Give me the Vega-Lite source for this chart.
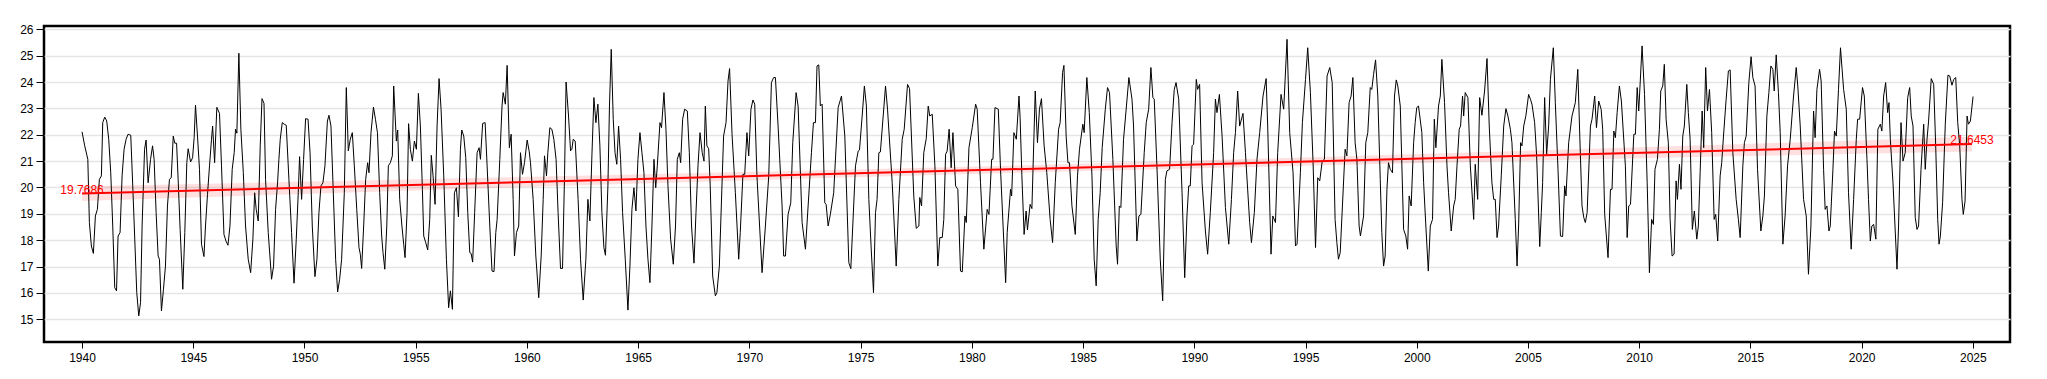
{
"$schema":"https://vega.github.io/schema/vega-lite/v6.json",
"width":1966,"height":316,"autosize":"none",
"padding":{"left":44,"top":26,"right":37,"bottom":37},
"background":"white",
"config":{"view":{"stroke":"#000","strokeWidth":2.5},"font":"Liberation Sans",
"axis":{"labelFont":"Liberation Sans","labelFontSize":12,"labelColor":"#000","tickColor":"#000","domain":false}},
"datasets":{
"band":[{"t":1940.00,"v":19.489,"hi":20.049},{"t":1950.62,"v":19.773,"hi":20.233},{"t":1961.24,"v":20.053,"hi":20.423},{"t":1971.86,"v":20.319,"hi":20.625},{"t":1982.48,"v":20.567,"hi":20.847},{"t":1993.10,"v":20.789,"hi":21.095},{"t":2003.72,"v":20.991,"hi":21.361},{"t":2014.34,"v":21.181,"hi":21.641},{"t":2024.96,"v":21.365,"hi":21.925}],
"trend":[{"t":1940.00,"v":19.7686,"label":"19.7686"},{"t":2024.96,"v":21.6453,"label":"21.6453"}],
"temp":[
{"t":1940.00,"v":22.11},{"t":1940.12,"v":21.58},{"t":1940.26,"v":21.07},{"t":1940.33,"v":18.67},{"t":1940.42,"v":17.78},{"t":1940.51,"v":17.50},{"t":1940.60,"v":18.92},{"t":1940.69,"v":19.17},{"t":1940.78,"v":20.31},{"t":1940.87,"v":20.44},{"t":1940.93,"v":22.46},{"t":1941.02,"v":22.67},{"t":1941.11,"v":22.52},{"t":1941.20,"v":21.83},{"t":1941.29,"v":20.56},{"t":1941.38,"v":18.54},{"t":1941.47,"v":16.20},{"t":1941.55,"v":16.08},{"t":1941.62,"v":18.16},{"t":1941.71,"v":18.29},{"t":1941.80,"v":20.44},{"t":1941.89,"v":21.45},{"t":1941.98,"v":21.83},{"t":1942.07,"v":22.02},{"t":1942.19,"v":21.98},{"t":1942.28,"v":20.06},{"t":1942.37,"v":18.04},{"t":1942.46,"v":16.01},{"t":1942.55,"v":15.13},{"t":1942.63,"v":15.63},{"t":1942.70,"v":18.54},{"t":1942.81,"v":21.45},{"t":1942.88,"v":21.80},{"t":1942.97,"v":20.18},{"t":1943.08,"v":21.07},{"t":1943.17,"v":21.58},{"t":1943.24,"v":21.07},{"t":1943.33,"v":19.05},{"t":1943.42,"v":17.40},{"t":1943.48,"v":17.28},{"t":1943.57,"v":15.32},{"t":1943.66,"v":16.14},{"t":1943.75,"v":17.02},{"t":1943.84,"v":19.30},{"t":1943.93,"v":20.31},{"t":1944.01,"v":20.37},{"t":1944.10,"v":21.95},{"t":1944.17,"v":21.68},{"t":1944.25,"v":21.68},{"t":1944.32,"v":20.31},{"t":1944.41,"v":18.41},{"t":1944.53,"v":16.14},{"t":1944.62,"v":18.29},{"t":1944.71,"v":20.94},{"t":1944.77,"v":21.47},{"t":1944.88,"v":20.97},{"t":1944.97,"v":21.13},{"t":1945.04,"v":21.89},{"t":1945.10,"v":23.12},{"t":1945.19,"v":21.95},{"t":1945.28,"v":20.69},{"t":1945.37,"v":17.85},{"t":1945.48,"v":17.38},{"t":1945.55,"v":18.54},{"t":1945.64,"v":19.74},{"t":1945.73,"v":20.82},{"t":1945.82,"v":21.83},{"t":1945.87,"v":22.33},{"t":1945.96,"v":20.94},{"t":1946.06,"v":23.04},{"t":1946.18,"v":22.81},{"t":1946.27,"v":20.82},{"t":1946.38,"v":18.22},{"t":1946.47,"v":17.97},{"t":1946.56,"v":17.81},{"t":1946.65,"v":18.54},{"t":1946.75,"v":20.69},{"t":1946.84,"v":21.32},{"t":1946.90,"v":22.21},{"t":1946.96,"v":22.06},{"t":1947.05,"v":25.09},{"t":1947.14,"v":22.21},{"t":1947.25,"v":20.56},{"t":1947.35,"v":18.54},{"t":1947.47,"v":17.28},{"t":1947.58,"v":16.77},{"t":1947.68,"v":18.04},{"t":1947.76,"v":19.80},{"t":1947.83,"v":19.17},{"t":1947.92,"v":18.73},{"t":1948.01,"v":21.58},{"t":1948.09,"v":23.37},{"t":1948.18,"v":23.19},{"t":1948.25,"v":20.31},{"t":1948.37,"v":18.29},{"t":1948.52,"v":16.52},{"t":1948.61,"v":17.02},{"t":1948.70,"v":19.17},{"t":1948.79,"v":20.18},{"t":1948.85,"v":21.07},{"t":1948.91,"v":21.83},{"t":1949.00,"v":22.46},{"t":1949.09,"v":22.40},{"t":1949.18,"v":22.36},{"t":1949.30,"v":20.31},{"t":1949.42,"v":18.29},{"t":1949.53,"v":16.37},{"t":1949.63,"v":18.04},{"t":1949.72,"v":19.80},{"t":1949.78,"v":21.17},{"t":1949.87,"v":19.55},{"t":1949.96,"v":21.07},{"t":1950.05,"v":22.61},{"t":1950.16,"v":22.59},{"t":1950.25,"v":21.32},{"t":1950.35,"v":18.54},{"t":1950.47,"v":16.62},{"t":1950.56,"v":17.28},{"t":1950.65,"v":19.05},{"t":1950.74,"v":20.06},{"t":1950.83,"v":20.18},{"t":1950.92,"v":20.82},{"t":1951.03,"v":22.52},{"t":1951.10,"v":22.74},{"t":1951.19,"v":22.33},{"t":1951.28,"v":20.18},{"t":1951.40,"v":17.28},{"t":1951.49,"v":16.04},{"t":1951.58,"v":16.52},{"t":1951.67,"v":17.28},{"t":1951.79,"v":19.80},{"t":1951.88,"v":23.79},{"t":1951.97,"v":21.39},{"t":1952.06,"v":21.83},{"t":1952.15,"v":22.08},{"t":1952.24,"v":20.82},{"t":1952.35,"v":19.17},{"t":1952.45,"v":17.72},{"t":1952.51,"v":17.47},{"t":1952.57,"v":16.93},{"t":1952.66,"v":18.54},{"t":1952.75,"v":20.31},{"t":1952.84,"v":20.94},{"t":1952.90,"v":20.56},{"t":1952.99,"v":22.08},{"t":1953.10,"v":23.05},{"t":1953.19,"v":22.59},{"t":1953.28,"v":22.08},{"t":1953.38,"v":19.80},{"t":1953.47,"v":18.16},{"t":1953.53,"v":17.53},{"t":1953.61,"v":16.90},{"t":1953.70,"v":18.54},{"t":1953.77,"v":20.82},{"t":1953.86,"v":20.94},{"t":1953.95,"v":21.20},
{"t":1954.01,"v":23.85},{"t":1954.13,"v":21.76},{"t":1954.19,"v":22.18},{"t":1954.28,"v":19.55},{"t":1954.38,"v":18.54},{"t":1954.46,"v":17.85},{"t":1954.52,"v":17.34},{"t":1954.61,"v":19.05},{"t":1954.68,"v":22.42},{"t":1954.76,"v":21.45},{"t":1954.85,"v":21.00},{"t":1954.94,"v":21.76},{"t":1955.03,"v":21.45},{"t":1955.12,"v":23.57},{"t":1955.21,"v":22.33},{"t":1955.30,"v":19.93},{"t":1955.36,"v":18.16},{"t":1955.45,"v":17.91},{"t":1955.54,"v":17.63},{"t":1955.63,"v":18.79},{"t":1955.70,"v":21.22},{"t":1955.78,"v":20.44},{"t":1955.87,"v":19.36},{"t":1955.96,"v":22.33},{"t":1956.05,"v":24.13},{"t":1956.14,"v":22.97},{"t":1956.26,"v":20.44},{"t":1956.38,"v":17.28},{"t":1956.48,"v":15.44},{"t":1956.56,"v":16.08},{"t":1956.65,"v":15.38},{"t":1956.74,"v":19.80},{"t":1956.83,"v":19.99},{"t":1956.92,"v":18.89},{"t":1957.01,"v":21.45},{"t":1957.07,"v":22.18},{"t":1957.16,"v":21.95},{"t":1957.25,"v":21.13},{"t":1957.34,"v":19.05},{"t":1957.43,"v":17.53},{"t":1957.49,"v":17.50},{"t":1957.56,"v":17.17},{"t":1957.65,"v":19.05},{"t":1957.76,"v":21.32},{"t":1957.85,"v":21.51},{"t":1957.91,"v":21.07},{"t":1958.01,"v":22.43},{"t":1958.12,"v":22.46},{"t":1958.21,"v":20.82},{"t":1958.33,"v":18.54},{"t":1958.43,"v":16.83},{"t":1958.52,"v":16.81},{"t":1958.60,"v":18.29},{"t":1958.66,"v":18.79},{"t":1958.78,"v":21.07},{"t":1958.88,"v":23.09},{"t":1958.93,"v":23.60},{"t":1959.03,"v":23.16},{"t":1959.11,"v":24.63},{"t":1959.21,"v":21.51},{"t":1959.29,"v":22.02},{"t":1959.38,"v":19.55},{"t":1959.44,"v":17.40},{"t":1959.53,"v":18.29},{"t":1959.63,"v":18.54},{"t":1959.71,"v":21.32},{"t":1959.80,"v":20.50},{"t":1959.89,"v":20.94},{"t":1960.01,"v":21.80},{"t":1960.10,"v":21.38},{"t":1960.16,"v":20.94},{"t":1960.28,"v":19.55},{"t":1960.40,"v":17.40},{"t":1960.53,"v":15.82},{"t":1960.64,"v":17.40},{"t":1960.73,"v":19.55},{"t":1960.79,"v":21.20},{"t":1960.88,"v":20.44},{"t":1960.94,"v":21.32},{"t":1961.03,"v":22.27},{"t":1961.12,"v":22.21},{"t":1961.21,"v":21.83},{"t":1961.31,"v":21.07},{"t":1961.40,"v":19.05},{"t":1961.51,"v":16.93},{"t":1961.60,"v":16.93},{"t":1961.69,"v":20.44},{"t":1961.76,"v":24.00},{"t":1961.87,"v":22.71},{"t":1961.96,"v":21.39},{"t":1962.02,"v":21.45},{"t":1962.08,"v":21.83},{"t":1962.17,"v":21.76},{"t":1962.30,"v":19.55},{"t":1962.41,"v":17.28},{"t":1962.53,"v":15.73},{"t":1962.65,"v":17.28},{"t":1962.74,"v":19.55},{"t":1962.83,"v":18.73},{"t":1962.92,"v":21.20},{"t":1963.01,"v":23.41},{"t":1963.10,"v":22.46},{"t":1963.19,"v":23.16},{"t":1963.28,"v":21.58},{"t":1963.37,"v":19.05},{"t":1963.46,"v":17.72},{"t":1963.53,"v":17.43},{"t":1963.64,"v":20.06},{"t":1963.71,"v":23.09},{"t":1963.79,"v":25.24},{"t":1963.88,"v":22.59},{"t":1963.96,"v":21.32},{"t":1964.04,"v":20.88},{"t":1964.12,"v":22.33},{"t":1964.21,"v":21.07},{"t":1964.30,"v":19.05},{"t":1964.42,"v":17.28},{"t":1964.54,"v":15.35},{"t":1964.63,"v":17.02},{"t":1964.72,"v":19.17},{"t":1964.81,"v":19.99},{"t":1964.90,"v":19.11},{"t":1964.99,"v":21.07},{"t":1965.08,"v":22.08},{"t":1965.17,"v":21.32},{"t":1965.26,"v":20.56},{"t":1965.35,"v":18.54},{"t":1965.44,"v":17.28},{"t":1965.53,"v":16.39},{"t":1965.62,"v":18.54},{"t":1965.71,"v":21.07},{"t":1965.79,"v":19.99},{"t":1965.86,"v":20.82},{"t":1965.98,"v":22.46},{"t":1966.05,"v":22.27},{"t":1966.16,"v":23.60},{"t":1966.25,"v":22.21},{"t":1966.34,"v":20.06},{"t":1966.46,"v":18.04},{"t":1966.58,"v":17.09},{"t":1966.68,"v":18.54},{"t":1966.76,"v":21.07},{"t":1966.85,"v":21.32},{"t":1966.91,"v":20.94},{"t":1967.00,"v":22.59},{"t":1967.09,"v":22.97},{"t":1967.21,"v":22.90},{"t":1967.30,"v":21.32},{"t":1967.40,"v":18.54},{"t":1967.51,"v":17.13},{"t":1967.60,"v":19.05},{"t":1967.69,"v":20.82},{"t":1967.78,"v":22.08},{"t":1967.88,"v":21.32},{"t":1967.96,"v":21.00},
{"t":1968.02,"v":23.09},{"t":1968.09,"v":21.58},{"t":1968.17,"v":21.47},{"t":1968.24,"v":20.06},{"t":1968.35,"v":16.64},{"t":1968.47,"v":15.89},{"t":1968.54,"v":16.01},{"t":1968.65,"v":17.02},{"t":1968.84,"v":21.95},{"t":1968.95,"v":22.46},{"t":1969.04,"v":24.04},{"t":1969.11,"v":24.51},{"t":1969.22,"v":22.02},{"t":1969.37,"v":19.80},{"t":1969.52,"v":17.28},{"t":1969.59,"v":18.29},{"t":1969.71,"v":20.50},{"t":1969.79,"v":20.50},{"t":1969.89,"v":22.08},{"t":1969.97,"v":21.20},{"t":1970.07,"v":22.97},{"t":1970.16,"v":23.32},{"t":1970.24,"v":23.16},{"t":1970.34,"v":20.44},{"t":1970.57,"v":16.77},{"t":1970.72,"v":18.54},{"t":1970.87,"v":20.44},{"t":1970.99,"v":23.98},{"t":1971.09,"v":24.17},{"t":1971.17,"v":24.17},{"t":1971.29,"v":22.33},{"t":1971.47,"v":19.30},{"t":1971.54,"v":17.40},{"t":1971.62,"v":17.40},{"t":1971.74,"v":18.98},{"t":1971.86,"v":19.42},{"t":1971.95,"v":21.70},{"t":1972.10,"v":23.60},{"t":1972.19,"v":23.09},{"t":1972.37,"v":18.67},{"t":1972.52,"v":17.66},{"t":1972.64,"v":19.30},{"t":1972.79,"v":21.32},{"t":1972.88,"v":22.46},{"t":1972.97,"v":22.46},{"t":1973.04,"v":24.61},{"t":1973.12,"v":24.65},{"t":1973.19,"v":23.09},{"t":1973.27,"v":23.16},{"t":1973.39,"v":19.42},{"t":1973.45,"v":19.36},{"t":1973.54,"v":18.54},{"t":1973.64,"v":18.98},{"t":1973.79,"v":19.80},{"t":1973.99,"v":23.03},{"t":1974.14,"v":23.47},{"t":1974.29,"v":21.95},{"t":1974.47,"v":17.15},{"t":1974.56,"v":16.92},{"t":1974.77,"v":20.82},{"t":1974.89,"v":21.38},{"t":1974.95,"v":21.42},{"t":1975.07,"v":22.71},{"t":1975.17,"v":23.85},{"t":1975.26,"v":23.09},{"t":1975.37,"v":19.55},{"t":1975.47,"v":17.78},{"t":1975.58,"v":16.01},{"t":1975.67,"v":19.05},{"t":1975.74,"v":19.55},{"t":1975.82,"v":21.32},{"t":1975.89,"v":21.35},{"t":1976.12,"v":23.85},{"t":1976.21,"v":22.97},{"t":1976.42,"v":20.18},{"t":1976.60,"v":17.02},{"t":1976.72,"v":19.55},{"t":1976.87,"v":21.83},{"t":1976.96,"v":22.21},{"t":1977.11,"v":23.91},{"t":1977.20,"v":23.75},{"t":1977.39,"v":19.68},{"t":1977.50,"v":18.45},{"t":1977.62,"v":18.54},{"t":1977.66,"v":19.62},{"t":1977.74,"v":19.30},{"t":1977.84,"v":21.32},{"t":1977.95,"v":21.85},{"t":1978.04,"v":23.09},{"t":1978.11,"v":22.71},{"t":1978.22,"v":22.78},{"t":1978.34,"v":20.82},{"t":1978.47,"v":17.02},{"t":1978.56,"v":18.10},{"t":1978.67,"v":18.10},{"t":1978.74,"v":18.79},{"t":1978.82,"v":21.26},{"t":1978.89,"v":21.38},{"t":1978.98,"v":22.21},{"t":1979.07,"v":20.75},{"t":1979.15,"v":22.08},{"t":1979.27,"v":20.06},{"t":1979.37,"v":19.93},{"t":1979.49,"v":16.83},{"t":1979.57,"v":16.80},{"t":1979.69,"v":18.92},{"t":1979.75,"v":18.67},{"t":1979.87,"v":21.51},{"t":1980.02,"v":22.27},{"t":1980.17,"v":23.16},{"t":1980.24,"v":22.97},{"t":1980.39,"v":20.18},{"t":1980.54,"v":17.66},{"t":1980.69,"v":19.17},{"t":1980.77,"v":18.98},{"t":1980.89,"v":21.07},{"t":1980.95,"v":21.07},{"t":1981.04,"v":23.03},{"t":1981.19,"v":22.97},{"t":1981.29,"v":20.69},{"t":1981.52,"v":16.39},{"t":1981.59,"v":18.29},{"t":1981.74,"v":19.93},{"t":1981.79,"v":19.68},{"t":1981.89,"v":22.08},{"t":1982.00,"v":21.83},{"t":1982.12,"v":23.47},
{"t":1982.17,"v":22.65},{"t":1982.25,"v":20.44},{"t":1982.35,"v":18.22},{"t":1982.44,"v":19.11},{"t":1982.50,"v":18.39},{"t":1982.62,"v":19.36},{"t":1982.70,"v":19.20},{"t":1982.85,"v":23.66},{"t":1982.95,"v":21.70},{"t":1983.04,"v":22.97},{"t":1983.13,"v":23.37},{"t":1983.25,"v":21.58},{"t":1983.37,"v":20.56},{"t":1983.52,"v":18.79},{"t":1983.63,"v":17.91},{"t":1983.75,"v":20.18},{"t":1983.90,"v":22.21},{"t":1983.97,"v":22.46},{"t":1984.08,"v":24.36},{"t":1984.14,"v":24.63},{"t":1984.24,"v":21.95},{"t":1984.32,"v":20.94},{"t":1984.39,"v":20.94},{"t":1984.50,"v":19.30},{"t":1984.65,"v":18.22},{"t":1984.75,"v":20.44},{"t":1984.84,"v":21.45},{"t":1984.99,"v":22.40},{"t":1985.05,"v":22.08},{"t":1985.17,"v":24.17},{"t":1985.28,"v":22.84},{"t":1985.40,"v":20.44},{"t":1985.50,"v":17.28},{"t":1985.59,"v":16.27},{"t":1985.68,"v":18.79},{"t":1985.77,"v":19.80},{"t":1985.86,"v":21.51},{"t":1986.00,"v":22.97},{"t":1986.10,"v":23.79},{"t":1986.19,"v":23.60},{"t":1986.34,"v":21.07},{"t":1986.49,"v":17.78},{"t":1986.55,"v":17.09},{"t":1986.63,"v":19.30},{"t":1986.70,"v":19.24},{"t":1986.82,"v":21.83},{"t":1986.97,"v":23.28},{"t":1987.06,"v":24.17},{"t":1987.20,"v":23.35},{"t":1987.27,"v":22.33},{"t":1987.42,"v":17.97},{"t":1987.51,"v":18.92},{"t":1987.60,"v":18.98},{"t":1987.75,"v":21.32},{"t":1987.84,"v":22.46},{"t":1987.95,"v":22.97},{"t":1988.05,"v":24.55},{"t":1988.14,"v":23.41},{"t":1988.20,"v":23.35},{"t":1988.32,"v":20.82},{"t":1988.47,"v":17.28},{"t":1988.58,"v":15.70},{"t":1988.70,"v":20.31},{"t":1988.77,"v":20.63},{"t":1988.89,"v":20.69},{"t":1989.00,"v":22.46},{"t":1989.10,"v":23.72},{"t":1989.18,"v":23.98},{"t":1989.30,"v":23.35},{"t":1989.45,"v":19.80},{"t":1989.57,"v":16.58},{"t":1989.67,"v":18.92},{"t":1989.75,"v":20.06},{"t":1989.82,"v":20.06},{"t":1989.90,"v":21.58},{"t":1989.97,"v":21.64},{"t":1990.09,"v":24.10},{"t":1990.15,"v":23.72},{"t":1990.24,"v":23.91},{"t":1990.35,"v":20.18},{"t":1990.50,"v":18.35},{"t":1990.60,"v":17.47},{"t":1990.72,"v":19.05},{"t":1990.87,"v":21.32},{"t":1990.95,"v":23.35},{"t":1991.02,"v":22.84},{"t":1991.13,"v":23.53},{"t":1991.25,"v":21.95},{"t":1991.40,"v":19.24},{"t":1991.55,"v":17.85},{"t":1991.67,"v":19.55},{"t":1991.77,"v":21.32},{"t":1991.85,"v":22.08},{"t":1991.95,"v":23.66},{"t":1992.04,"v":22.33},{"t":1992.19,"v":22.81},{"t":1992.30,"v":21.32},{"t":1992.49,"v":18.67},{"t":1992.57,"v":17.91},{"t":1992.70,"v":19.05},{"t":1992.82,"v":21.07},{"t":1992.94,"v":22.08},{"t":1993.09,"v":23.47},{"t":1993.23,"v":24.13},{"t":1993.30,"v":22.33},{"t":1993.45,"v":17.47},{"t":1993.53,"v":18.92},{"t":1993.65,"v":18.67},{"t":1993.75,"v":21.32},{"t":1993.90,"v":23.53},{"t":1994.02,"v":22.97},{"t":1994.17,"v":25.62},{"t":1994.29,"v":22.08},{"t":1994.44,"v":20.56},{"t":1994.55,"v":17.78},{"t":1994.62,"v":17.85},{"t":1994.77,"v":20.56},{"t":1994.86,"v":22.46},{"t":1995.00,"v":24.10},{"t":1995.10,"v":25.30},{"t":1995.22,"v":23.60},{"t":1995.34,"v":20.94},{"t":1995.45,"v":17.72},{"t":1995.55,"v":20.37},{"t":1995.64,"v":20.25},{"t":1995.75,"v":21.00},{"t":1995.85,"v":21.07},{"t":1995.97,"v":24.23},{"t":1996.09,"v":24.55},{"t":1996.20,"v":23.98},{"t":1996.33,"v":18.79},
{"t":1996.41,"v":17.91},{"t":1996.48,"v":17.28},{"t":1996.56,"v":17.53},{"t":1996.66,"v":19.30},{"t":1996.78,"v":21.45},{"t":1996.86,"v":21.20},{"t":1996.96,"v":23.22},{"t":1997.05,"v":23.47},{"t":1997.13,"v":24.17},{"t":1997.23,"v":21.70},{"t":1997.31,"v":21.07},{"t":1997.41,"v":18.54},{"t":1997.47,"v":18.16},{"t":1997.61,"v":18.92},{"t":1997.71,"v":21.70},{"t":1997.80,"v":22.08},{"t":1997.91,"v":23.79},{"t":1997.98,"v":23.72},{"t":1998.06,"v":24.29},{"t":1998.15,"v":24.84},{"t":1998.25,"v":23.47},{"t":1998.36,"v":20.31},{"t":1998.43,"v":18.29},{"t":1998.51,"v":17.02},{"t":1998.58,"v":17.40},{"t":1998.66,"v":19.93},{"t":1998.73,"v":20.94},{"t":1998.81,"v":20.69},{"t":1998.91,"v":20.56},{"t":1999.00,"v":23.47},{"t":1999.08,"v":24.08},{"t":1999.15,"v":23.85},{"t":1999.26,"v":23.09},{"t":1999.41,"v":18.41},{"t":1999.51,"v":18.16},{"t":1999.59,"v":17.66},{"t":1999.66,"v":19.68},{"t":1999.75,"v":19.30},{"t":1999.86,"v":21.70},{"t":1999.93,"v":22.46},{"t":2000.00,"v":23.03},{"t":2000.08,"v":23.09},{"t":2000.23,"v":22.08},{"t":2000.31,"v":20.18},{"t":2000.41,"v":18.54},{"t":2000.52,"v":16.83},{"t":2000.61,"v":18.54},{"t":2000.71,"v":18.79},{"t":2000.79,"v":22.59},{"t":2000.86,"v":21.51},{"t":2000.98,"v":23.09},{"t":2001.06,"v":23.47},{"t":2001.13,"v":24.86},{"t":2001.25,"v":23.22},{"t":2001.36,"v":20.82},{"t":2001.43,"v":19.80},{"t":2001.55,"v":18.35},{"t":2001.66,"v":19.30},{"t":2001.73,"v":19.55},{"t":2001.81,"v":20.82},{"t":2001.91,"v":22.21},{"t":2001.97,"v":22.33},{"t":2002.06,"v":23.47},{"t":2002.11,"v":22.71},{"t":2002.18,"v":23.60},{"t":2002.30,"v":23.41},{"t":2002.41,"v":20.82},{"t":2002.56,"v":18.79},{"t":2002.63,"v":20.88},{"t":2002.74,"v":19.55},{"t":2002.83,"v":23.41},{"t":2002.93,"v":22.74},{"t":2003.05,"v":23.66},{"t":2003.16,"v":24.89},{"t":2003.26,"v":22.33},{"t":2003.38,"v":20.18},{"t":2003.46,"v":19.55},{"t":2003.53,"v":19.55},{"t":2003.61,"v":18.10},{"t":2003.68,"v":18.54},{"t":2003.80,"v":20.44},{"t":2003.91,"v":22.33},{"t":2004.01,"v":22.99},{"t":2004.10,"v":22.71},{"t":2004.21,"v":22.21},{"t":2004.28,"v":21.70},{"t":2004.43,"v":18.79},{"t":2004.51,"v":17.02},{"t":2004.58,"v":18.54},{"t":2004.67,"v":21.70},{"t":2004.73,"v":21.58},{"t":2004.81,"v":22.33},{"t":2004.91,"v":22.74},{"t":2005.03,"v":23.53},{"t":2005.11,"v":23.35},{"t":2005.18,"v":23.16},{"t":2005.30,"v":22.46},{"t":2005.39,"v":21.20},{"t":2005.53,"v":17.76},{"t":2005.60,"v":19.05},{"t":2005.66,"v":20.18},{"t":2005.75,"v":23.41},{"t":2005.84,"v":21.26},{"t":2005.93,"v":22.33},{"t":2006.01,"v":24.10},{"t":2006.14,"v":25.30},{"t":2006.23,"v":23.22},{"t":2006.35,"v":20.69},{"t":2006.46,"v":18.16},{"t":2006.56,"v":18.14},{"t":2006.65,"v":20.06},{"t":2006.71,"v":19.68},{"t":2006.83,"v":21.70},{"t":2006.98,"v":22.71},{"t":2007.13,"v":23.22},{"t":2007.24,"v":24.48},{"t":2007.33,"v":21.95},{"t":2007.43,"v":19.30},{"t":2007.51,"v":18.86},{"t":2007.58,"v":18.67},{"t":2007.66,"v":19.05},{"t":2007.81,"v":22.33},{"t":2007.88,"v":22.59},{"t":2008.00,"v":23.47},{"t":2008.08,"v":22.27},{"t":2008.18,"v":23.28},{"t":2008.29,"v":22.97},{"t":2008.36,"v":22.21},{"t":2008.45,"v":18.98},{"t":2008.60,"v":17.34},{"t":2008.71,"v":19.93},{"t":2008.78,"v":19.93},{"t":2008.86,"v":22.14},{"t":2008.93,"v":21.89},{"t":2009.01,"v":22.84},{"t":2009.11,"v":23.85},{"t":2009.20,"v":23.28},{"t":2009.38,"v":20.82},{"t":2009.46,"v":18.10},{"t":2009.53,"v":19.30},{"t":2009.61,"v":19.36},{"t":2009.76,"v":22.02},{"t":2009.83,"v":22.02},{"t":2009.91,"v":23.79},{"t":2009.98,"v":22.90},{"t":2010.13,"v":25.37},{"t":2010.24,"v":23.53},{"t":2010.36,"v":20.18},{"t":2010.46,"v":16.77},{"t":2010.56,"v":18.79},{"t":2010.64,"v":18.60},
{"t":2010.71,"v":20.69},{"t":2010.82,"v":21.07},{"t":2010.91,"v":22.21},{"t":2010.97,"v":23.66},{"t":2011.06,"v":23.85},{"t":2011.13,"v":24.67},{"t":2011.21,"v":22.59},{"t":2011.31,"v":21.70},{"t":2011.39,"v":18.79},{"t":2011.48,"v":17.40},{"t":2011.57,"v":17.47},{"t":2011.66,"v":20.25},{"t":2011.72,"v":19.55},{"t":2011.81,"v":20.88},{"t":2011.88,"v":19.93},{"t":2011.96,"v":21.95},{"t":2012.03,"v":22.33},{"t":2012.14,"v":23.91},{"t":2012.21,"v":22.84},{"t":2012.29,"v":21.83},{"t":2012.39,"v":18.41},{"t":2012.48,"v":19.11},{"t":2012.59,"v":18.04},{"t":2012.66,"v":18.54},{"t":2012.74,"v":20.56},{"t":2012.83,"v":22.90},{"t":2012.90,"v":21.51},{"t":2012.99,"v":24.55},{"t":2013.07,"v":22.90},{"t":2013.16,"v":23.72},{"t":2013.26,"v":22.08},{"t":2013.37,"v":18.79},{"t":2013.44,"v":18.98},{"t":2013.53,"v":17.97},{"t":2013.64,"v":20.44},{"t":2013.71,"v":20.94},{"t":2013.79,"v":21.95},{"t":2013.91,"v":23.35},{"t":2014.01,"v":24.42},{"t":2014.09,"v":24.46},{"t":2014.21,"v":21.32},{"t":2014.36,"v":19.55},{"t":2014.46,"v":18.79},{"t":2014.54,"v":18.10},{"t":2014.66,"v":20.82},{"t":2014.73,"v":21.70},{"t":2014.81,"v":21.95},{"t":2014.93,"v":23.98},{"t":2015.03,"v":24.96},{"t":2015.11,"v":24.17},{"t":2015.21,"v":23.85},{"t":2015.32,"v":20.69},{"t":2015.47,"v":18.35},{"t":2015.56,"v":18.92},{"t":2015.63,"v":19.68},{"t":2015.74,"v":22.71},{"t":2015.83,"v":23.60},{"t":2015.92,"v":24.61},{"t":2016.01,"v":24.48},{"t":2016.07,"v":23.66},{"t":2016.16,"v":25.03},{"t":2016.26,"v":23.60},{"t":2016.34,"v":22.08},{"t":2016.46,"v":17.85},{"t":2016.56,"v":18.92},{"t":2016.67,"v":20.82},{"t":2016.79,"v":21.83},{"t":2016.94,"v":23.47},{"t":2017.06,"v":24.55},{"t":2017.13,"v":23.85},{"t":2017.24,"v":22.33},{"t":2017.39,"v":19.55},{"t":2017.51,"v":18.92},{"t":2017.61,"v":16.71},{"t":2017.72,"v":18.54},{"t":2017.84,"v":22.90},{"t":2017.91,"v":21.89},{"t":2017.99,"v":23.72},{"t":2018.11,"v":24.48},{"t":2018.18,"v":24.04},{"t":2018.29,"v":20.69},{"t":2018.36,"v":19.17},{"t":2018.44,"v":19.30},{"t":2018.53,"v":18.35},{"t":2018.59,"v":18.54},{"t":2018.71,"v":20.69},{"t":2018.78,"v":22.14},{"t":2018.86,"v":21.95},{"t":2018.96,"v":23.72},{"t":2019.05,"v":25.30},{"t":2019.19,"v":23.72},{"t":2019.31,"v":22.97},{"t":2019.41,"v":19.80},{"t":2019.53,"v":17.66},{"t":2019.64,"v":19.55},{"t":2019.76,"v":21.83},{"t":2019.82,"v":22.59},{"t":2019.91,"v":22.59},{"t":2020.04,"v":23.79},{"t":2020.12,"v":23.47},{"t":2020.24,"v":21.07},{"t":2020.31,"v":19.55},{"t":2020.39,"v":17.97},{"t":2020.46,"v":18.54},{"t":2020.54,"v":18.60},{"t":2020.64,"v":18.04},{"t":2020.73,"v":22.21},{"t":2020.84,"v":22.40},{"t":2020.91,"v":22.14},{"t":2020.99,"v":23.47},{"t":2021.08,"v":23.98},{"t":2021.17,"v":22.84},{"t":2021.23,"v":23.22},{"t":2021.29,"v":21.83},{"t":2021.41,"v":20.18},{"t":2021.59,"v":16.90},{"t":2021.66,"v":18.54},{"t":2021.77,"v":22.46},{"t":2021.86,"v":21.00},{"t":2021.96,"v":21.32},{"t":2022.07,"v":23.41},{"t":2022.16,"v":23.79},{"t":2022.23,"v":22.71},{"t":2022.31,"v":22.33},{"t":2022.41,"v":18.86},{"t":2022.49,"v":18.41},{"t":2022.56,"v":18.54},{"t":2022.67,"v":20.69},{"t":2022.79,"v":22.40},{"t":2022.86,"v":20.69},{"t":2022.94,"v":21.83},{"t":2023.01,"v":22.52},{"t":2023.13,"v":24.13},{"t":2023.24,"v":23.91},{"t":2023.33,"v":21.58},{"t":2023.42,"v":18.79},{"t":2023.48,"v":17.85},{"t":2023.54,"v":18.16},{"t":2023.64,"v":19.42},{"t":2023.76,"v":22.40},{"t":2023.88,"v":24.26},{"t":2023.96,"v":24.23},{"t":2024.06,"v":23.88},{"t":2024.14,"v":24.10},{"t":2024.23,"v":24.17},{"t":2024.32,"v":22.46},{"t":2024.41,"v":21.58},{"t":2024.51,"v":19.55},{"t":2024.57,"v":18.98},{"t":2024.65,"v":19.49},{"t":2024.74,"v":22.71},{"t":2024.80,"v":22.40},{"t":2024.89,"v":22.52},{"t":2025.01,"v":23.45}
]},
"encoding":{
"x":{"field":"t","type":"quantitative","title":null,"scale":{"domain":[1938.29,2026.67],"nice":false,"zero":false},
"axis":{"values":[1940,1945,1950,1955,1960,1965,1970,1975,1980,1985,1990,1995,2000,2005,2010,2015,2020,2025],"format":"d","grid":false,"tickSize":6,"labelPadding":4,"labelFlush":false,"title":null}},
"y":{"field":"v","type":"quantitative","title":null,"scale":{"domain":[14.14,26.125],"nice":false,"zero":false},
"axis":{"values":[15,16,17,18,19,20,21,22,23,24,25,26],"grid":true,"gridColor":"#e5e5e5","gridWidth":1.5,"tickSize":8,"labelPadding":3,"title":null}}},
"layer":[
{"data":{"name":"band"},"mark":{"type":"area","color":"#ff0000","opacity":0.12},"encoding":{"y2":{"field":"hi"}}},
{"data":{"name":"temp"},"mark":{"type":"line","color":"#000","strokeWidth":1}},
{"data":{"name":"trend"},"mark":{"type":"line","color":"#ff0000","strokeWidth":2}},
{"data":{"name":"trend"},"mark":{"type":"text","color":"#ff0000","fontSize":12,"align":"center","baseline":"middle","dy":-4,"font":"Liberation Sans"},"encoding":{"text":{"field":"label"}}}
]
}
